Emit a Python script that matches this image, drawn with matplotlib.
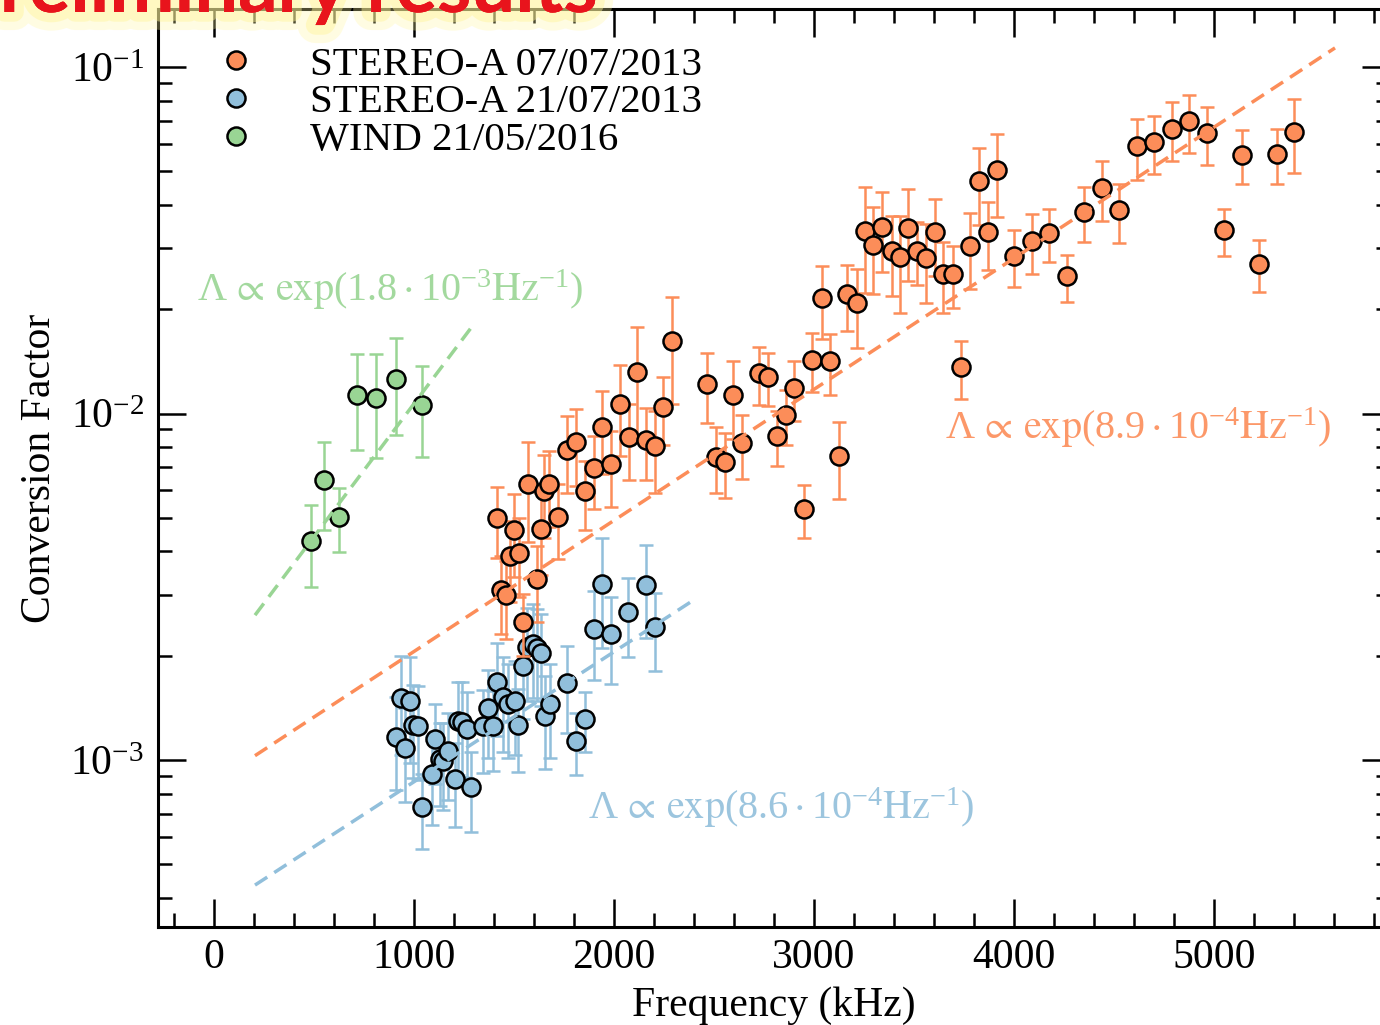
import numpy as np
import matplotlib.pyplot as plt
import matplotlib.patheffects as pe
from matplotlib.ticker import MultipleLocator, LogLocator, NullFormatter

plt.rcParams['font.family'] = 'serif'
plt.rcParams['font.serif'] = ['Liberation Serif', 'DejaVu Serif']
plt.rcParams['mathtext.fontset'] = 'stix'
plt.rcParams['mathtext.default'] = 'regular'

# STEREO-A 07/07/2013
orange_f = [1415, 1435, 1460, 1480, 1500, 1525, 1545, 1570, 1615, 1635, 1650, 1675,
            1720, 1765, 1810, 1855, 1900, 1940, 1985, 2030, 2075, 2115, 2160, 2205,
            2245, 2290, 2465, 2510, 2555, 2595, 2640, 2725, 2770, 2815, 2860, 2900,
            2950, 2990, 3040, 3080, 3125, 3165, 3215, 3255, 3295, 3340, 3390, 3430,
            3470, 3515, 3560, 3605, 3645, 3695, 3735, 3780, 3825, 3870, 3915, 4000,
            4090, 4175, 4265, 4350, 4440, 4525, 4615, 4700, 4790, 4875, 4965, 5050,
            5140, 5225, 5315, 5400]
orange_y = [4.98e-3, 3.09e-3, 2.99e-3, 3.88e-3, 4.62e-3, 3.97e-3, 2.51e-3, 6.27e-3,
            3.33e-3, 4.65e-3, 5.97e-3, 6.27e-3, 5.04e-3, 7.86e-3, 8.26e-3, 5.97e-3,
            6.97e-3, 9.17e-3, 7.16e-3, 1.069e-2, 8.57e-3, 1.319e-2, 8.41e-3, 8.04e-3,
            1.043e-2, 1.617e-2, 1.218e-2, 7.51e-3, 7.24e-3, 1.133e-2, 8.21e-3, 1.307e-2,
            1.273e-2, 8.64e-3, 9.93e-3, 1.186e-2, 5.31e-3, 1.432e-2, 2.152e-2, 1.416e-2,
            7.55e-3, 2.206e-2, 2.082e-2, 3.363e-2, 3.074e-2, 3.453e-2, 2.954e-2, 2.838e-2,
            3.435e-2, 2.954e-2, 2.806e-2, 3.33e-2, 2.535e-2, 2.531e-2, 1.36e-2, 3.04e-2,
            4.673e-2, 3.33e-2, 5.05e-2, 2.857e-2, 3.151e-2, 3.315e-2, 2.489e-2, 3.811e-2,
            4.481e-2, 3.854e-2, 5.906e-2, 6.065e-2, 6.631e-2, 6.975e-2, 6.457e-2, 3.375e-2,
            5.59e-2, 2.703e-2, 5.616e-2, 6.513e-2]
orange_err = [1.16e-3, 0.78e-3, 0.76e-3, 1.03e-3, 1.25e-3, 1.01e-3, 0.51e-3, 2.0e-3,
              0.83e-3, 1.24e-3, 1.60e-3, 1.55e-3, 1.24e-3, 1.95e-3, 2.07e-3, 1.35e-3,
              1.67e-3, 2.48e-3, 1.77e-3, 3.16e-3, 2.12e-3, 4.63e-3, 1.99e-3, 2.15e-3,
              2.30e-3, 5.49e-3, 2.77e-3, 1.61e-3, 1.54e-3, 2.89e-3, 1.72e-3, 2.46e-3,
              2.24e-3, 1.56e-3, 1.79e-3, 2.36e-3, 0.93e-3, 2.81e-3, 5.10e-3, 2.86e-3,
              1.89e-3, 4.81e-3, 5.35e-3, 1.142e-2, 8.65e-3, 8.98e-3, 7.74e-3, 8.89e-3,
              1.016e-2, 6.11e-3, 7.28e-3, 8.36e-3, 5.86e-3, 5.12e-3, 2.57e-3, 7.45e-3,
              1.17e-2, 7.43e-3, 1.364e-2, 5.32e-3, 6.19e-3, 5.83e-3, 3.88e-3, 6.95e-3,
              8.91e-3, 7.48e-3, 1.179e-2, 1.144e-2, 1.282e-2, 1.338e-2, 1.233e-2, 5.23e-3,
              9.97e-3, 4.67e-3, 1.015e-2, 1.581e-2]

# STEREO-A 21/07/2013
blue_f = [910, 935, 955, 980, 995, 1020, 1040, 1090, 1105, 1130, 1145, 1170, 1205,
          1220, 1240, 1265, 1285, 1345, 1370, 1395, 1415, 1445, 1470, 1505, 1520,
          1545, 1565, 1595, 1615, 1635, 1655, 1680, 1765, 1810, 1855, 1900, 1940,
          1985, 2070, 2160, 2205]
blue_y = [1.169e-3, 1.512e-3, 1.087e-3, 1.478e-3, 1.266e-3, 1.258e-3, 7.34e-4, 9.12e-4,
          1.151e-3, 1.008e-3, 9.97e-4, 1.065e-3, 8.83e-4, 1.294e-3, 1.285e-3, 1.231e-3,
          8.39e-4, 1.258e-3, 1.414e-3, 1.258e-3, 1.677e-3, 1.518e-3, 1.453e-3, 1.485e-3,
          1.266e-3, 1.874e-3, 2.116e-3, 2.164e-3, 2.108e-3, 2.039e-3, 1.344e-3, 1.456e-3,
          1.668e-3, 1.138e-3, 1.317e-3, 2.396e-3, 3.231e-3, 2.313e-3, 2.671e-3, 3.209e-3,
          2.420e-3]
blue_err = [3.5e-4, 4.8e-4, 3.3e-4, 5.0e-4, 3.8e-4, 3.8e-4, 1.8e-4, 2.6e-4, 3.0e-4,
            2.7e-4, 2.8e-4, 3.0e-4, 2.4e-4, 3.9e-4, 3.9e-4, 3.4e-4, 2.2e-4, 3.4e-4,
            4.0e-4, 3.3e-4, 5.0e-4, 4.6e-4, 4.4e-4, 4.5e-4, 3.4e-4, 5.6e-4, 6.3e-4,
            6.5e-4, 6.3e-4, 6.1e-4, 4.0e-4, 4.4e-4, 4.7e-4, 2.3e-4, 2.6e-4, 6.9e-4,
            1.13e-3, 6.5e-4, 6.9e-4, 9.6e-4, 6.1e-4]

# WIND 21/05/2016
green_f = [485, 550, 625, 715, 810, 910, 1040]
green_y = [4.30e-3, 6.45e-3, 5.04e-3, 1.134e-2, 1.112e-2, 1.262e-2, 1.062e-2]
green_err = [1.15e-3, 1.85e-3, 1.05e-3, 3.47e-3, 3.70e-3, 3.95e-3, 3.12e-3]

# exponential fits (end points)
fit_orange_f = [205, 5605]
fit_orange_y = [1.03e-3, 1.135e-1]
fit_blue_f = [205, 2390]
fit_blue_y = [4.36e-4, 2.876e-3]
fit_green_f = [205, 1305]
fit_green_y = [2.62e-3, 1.83e-2]

c_orange = '#fc8d59'
c_blue = '#91bfdb'
c_green = '#99d594'

fig = plt.figure(figsize=(13.8, 10.25), dpi=100)
ax = fig.add_axes([158/1380, 98/1025, 1232/1380, 918/1025])
ax.set_yscale('log')

kw = dict(fmt='o', ms=13, mec='black', mew=1.8, elinewidth=1.8,
          capsize=4.7, capthick=1.8)
ax.errorbar(blue_f, blue_y, yerr=blue_err, color=c_blue, ecolor=c_blue,
            mfc=c_blue, label='STEREO-A 21/07/2013', zorder=2, **kw)
ax.errorbar(orange_f, orange_y, yerr=orange_err, color=c_orange, ecolor=c_orange,
            mfc=c_orange, label='STEREO-A 07/07/2013', zorder=3, **kw)
ax.errorbar(green_f, green_y, yerr=green_err, color=c_green, ecolor=c_green,
            mfc=c_green, label='WIND 21/05/2016', zorder=3, **kw)

dash = (0, (4.2, 2.4))
ax.plot(fit_orange_f, fit_orange_y, ls=dash, lw=2.5, color=c_orange, zorder=5)
ax.plot(fit_blue_f, fit_blue_y, ls=dash, lw=2.5, color=c_blue, zorder=5)
ax.plot(fit_green_f, fit_green_y, ls=dash, lw=2.5, color=c_green, zorder=5)

ax.text(0.0317, 0.694, r'$\Lambda\,\propto\,\mathrm{exp}(1.8\cdot10^{-3}\mathrm{Hz}^{-1})$',
        transform=ax.transAxes, color=c_green, fontsize=29, va='center', ha='left', alpha=0.9)
ax.text(0.639, 0.5436, r'$\Lambda\,\propto\,\mathrm{exp}(8.9\cdot10^{-4}\mathrm{Hz}^{-1})$',
        transform=ax.transAxes, color=c_orange, fontsize=29, va='center', ha='left', alpha=0.9)
ax.text(0.349, 0.1296, r'$\Lambda\,\propto\,\mathrm{exp}(8.6\cdot10^{-4}\mathrm{Hz}^{-1})$',
        transform=ax.transAxes, color=c_blue, fontsize=29, va='center', ha='left', alpha=0.9)

ax.set_xlim(-280, 5880)
ax.set_ylim(3.3e-4, 0.147)
ax.xaxis.set_major_locator(MultipleLocator(1000))
ax.xaxis.set_minor_locator(MultipleLocator(200))
ax.yaxis.set_major_locator(LogLocator(base=10))
ax.yaxis.set_minor_locator(LogLocator(base=10, subs=np.arange(2, 10)))
ax.yaxis.set_minor_formatter(NullFormatter())

ax.tick_params(which='both', direction='in', top=True, right=True, width=1.8)
ax.tick_params(which='major', length=20, labelsize=30)
ax.tick_params(which='minor', length=10)
ax.tick_params(axis='x', which='major', pad=8)
ax.tick_params(axis='y', which='major', pad=10)
for s in ax.spines.values():
    s.set_linewidth(2.2)

ax.set_xlabel('Frequency (kHz)', fontsize=30, labelpad=7)
ax.set_ylabel('Conversion Factor', fontsize=30, labelpad=8)

handles, labels = ax.get_legend_handles_labels()
order = [1, 0, 2]
ax.legend([handles[i][0] for i in order], [labels[i] for i in order],
          loc='upper left', frameon=False, fontsize=29.5, numpoints=1,
          labelspacing=0.0, handletextpad=0.8, borderpad=0.4, borderaxespad=0.5)

fig.text(598/1380, 1 - 12/1025, 'Preliminary results', fontsize=56, fontweight='bold',
         family='Lato', color='#e8141c', ha='right', va='baseline', zorder=10,
         path_effects=[pe.withStroke(linewidth=26, foreground='#fff7a0', alpha=0.3),
                       pe.withStroke(linewidth=14, foreground='#fff59a', alpha=0.45),
                       pe.Normal()])

fig.savefig('out.png', dpi=100)
